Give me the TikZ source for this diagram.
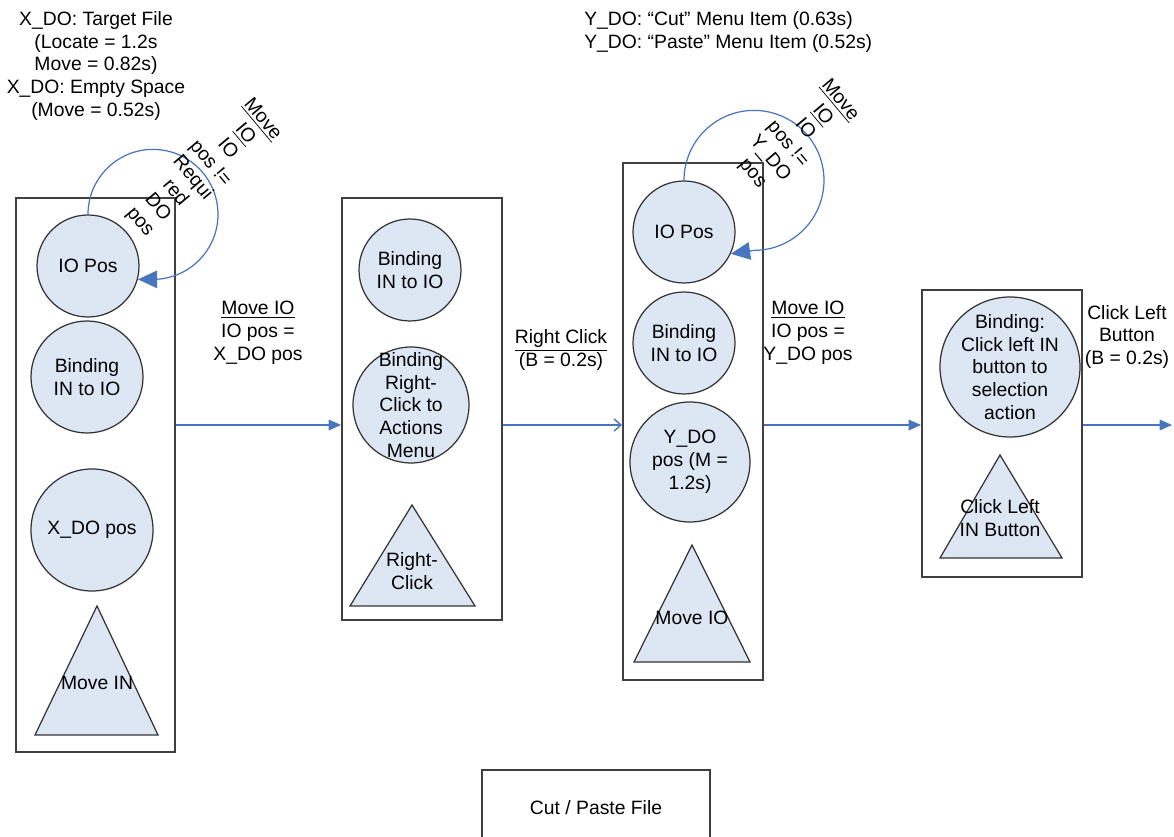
\documentclass[tikz,border=0pt]{standalone}
\usepackage{fontspec}
\setmainfont{Liberation Sans}
\usetikzlibrary{arrows.meta}

\definecolor{bubblefill}{RGB}{221,231,244}
\definecolor{flowblue}{RGB}{72,118,190}
\newcommand{\lblfont}{\fontsize{11}{13}\selectfont}

\tikzset{
  frame/.style={draw=black!75, line width=1.1pt},
  bubble/.style={circle, draw=black!80, fill=bubblefill, line width=0.7pt, inner sep=0pt},
  tri/.style={draw=black!80, fill=bubblefill, line width=0.7pt},
  lbl/.style={align=center, font=\lblfont, inner sep=0pt},
  flow/.style={draw=flowblue, line width=0.8pt, -{Triangle[length=7pt,width=6pt]}},
  selfloop/.style={draw=flowblue, line width=0.7pt, -{Triangle[length=11pt,width=10pt]}},
}

\begin{document}
\begin{tikzpicture}[x=0.02cm, y=-0.02cm]
  \useasboundingbox (0,0) rectangle (1174,837);

  % notes on top
  \node[lbl] (xdonote) at (96,66) {X\_DO: Target File\\(Locate = 1.2s\\Move = 0.82s)\\X\_DO: Empty Space\\(Move = 0.52s)};
  \node[lbl, align=left, anchor=west] (ydonote) at (584,32) {Y\_DO: “Cut” Menu Item (0.63s)\\Y\_DO: “Paste” Menu Item (0.52s)};

  % the four boxes
  \node[frame, minimum width=159*0.02cm, minimum height=554*0.02cm] (box1) at (95.5,475) {};
  \node[frame, minimum width=160*0.02cm, minimum height=422*0.02cm] (box2) at (422,409) {};
  \node[frame, minimum width=140*0.02cm, minimum height=517*0.02cm] (box3) at (693,421.5) {};
  \node[frame, minimum width=160*0.02cm, minimum height=287*0.02cm] (box4) at (1002,433.5) {};
  \node[frame, minimum width=228*0.02cm, minimum height=80*0.02cm] (cutbox) at (596,810) {};
  \node[lbl] (cuttext) at (596,808) {Cut / Paste File};

  % box 1
  \node[bubble, minimum size=102*0.02cm, label={[lbl]center:IO Pos}] (io1) at (88,266) {};
  \node[bubble, minimum size=112*0.02cm, label={[lbl]center:{Binding\\IN to IO}}] (bind1) at (87,377) {};
  \node[bubble, minimum size=122*0.02cm, label={[lbl]center:{X\_DO pos}}] (xdo1) at (92,530) {};
  \draw[tri] (97,606) -- (158,735) -- (35,735) -- cycle;
  \node[lbl] (movein1) at (97,683) {Move IN};

  % box 2
  \node[bubble, minimum size=102*0.02cm, label={[lbl]center:{Binding\\IN to IO}}] (bind2) at (410,270) {};
  \node[bubble, minimum size=116*0.02cm, label={[lbl]center:{Binding\\Right-\\Click to\\Actions\\Menu}}] (menu2) at (411,405) {};
  \draw[tri] (412,505) -- (475,606) -- (350,606) -- cycle;
  \node[lbl] (rclick2) at (412,571) {Right-\\Click};

  % box 3
  \node[bubble, minimum size=102*0.02cm, label={[lbl]center:IO Pos}] (io3) at (684,232) {};
  \node[bubble, minimum size=102*0.02cm, label={[lbl]center:{Binding\\IN to IO}}] (bind3) at (684,343) {};
  \node[bubble, minimum size=120*0.02cm, label={[lbl]center:{Y\_DO\\pos (M =\\1.2s)}}] (ydo3) at (690,462) {};
  \draw[tri] (692,545) -- (750,662) -- (634,662) -- cycle;
  \node[lbl] (moveio3) at (692,618) {Move IO};

  % box 4
  \node[bubble, minimum size=140*0.02cm, label={[lbl]center:{Binding:\\Click left IN\\button to\\selection\\action}}] (bind4) at (1010,367) {};
  \draw[tri] (1000,455) -- (1062,558) -- (940,558) -- cycle;
  \node[lbl] (clickin4) at (1000,518) {Click Left\\IN Button};

  % loops
  \draw[selfloop] (io1.north) arc[start angle=180, end angle=-90, radius=1.3cm] -- (io1.-15);
  \node[lbl, rotate=-50] (loop1lbl) at (201,171) {\underline{Move}\\\underline{IO}\\IO\\pos !=\\Requi\\red\\DO\\pos};
  \draw[selfloop] (io3.north) arc[start angle=180, end angle=-90, radius=1.4cm] -- (io3.-25);
  \node[lbl, rotate=-50] (loop3lbl) at (796,137) {\underline{Move}\\\underline{IO}\\IO\\pos !=\\Y\_DO\\pos};

  % transitions
  \coordinate (rowy) at (0,425);
  \coordinate (outend) at (1172,425);
  \draw[flow] (box1.east |- rowy) -- (box2.west |- rowy);
  \draw[draw=flowblue, line width=0.8pt, -{Straight Barb[length=4pt,width=7pt]}] (box2.east |- rowy) -- (box3.west |- rowy);
  \draw[flow] (box3.east |- rowy) -- (box4.west |- rowy);
  \draw[flow] (box4.east |- rowy) -- (outend);

  \node[lbl] (mv1lbl) at (258,333) {\underline{Move IO}\\IO pos =\\X\_DO pos};
  \node[lbl] (rclbl) at (561,350) {\underline{Right Click}\\(B = 0.2s)};
  \node[lbl] (mv2lbl) at (808,333) {\underline{Move IO}\\IO pos =\\Y\_DO pos};
  \node[lbl] (cllbl) at (1127,337) {Click Left\\Button\\(B = 0.2s)};
\end{tikzpicture}
\end{document}
